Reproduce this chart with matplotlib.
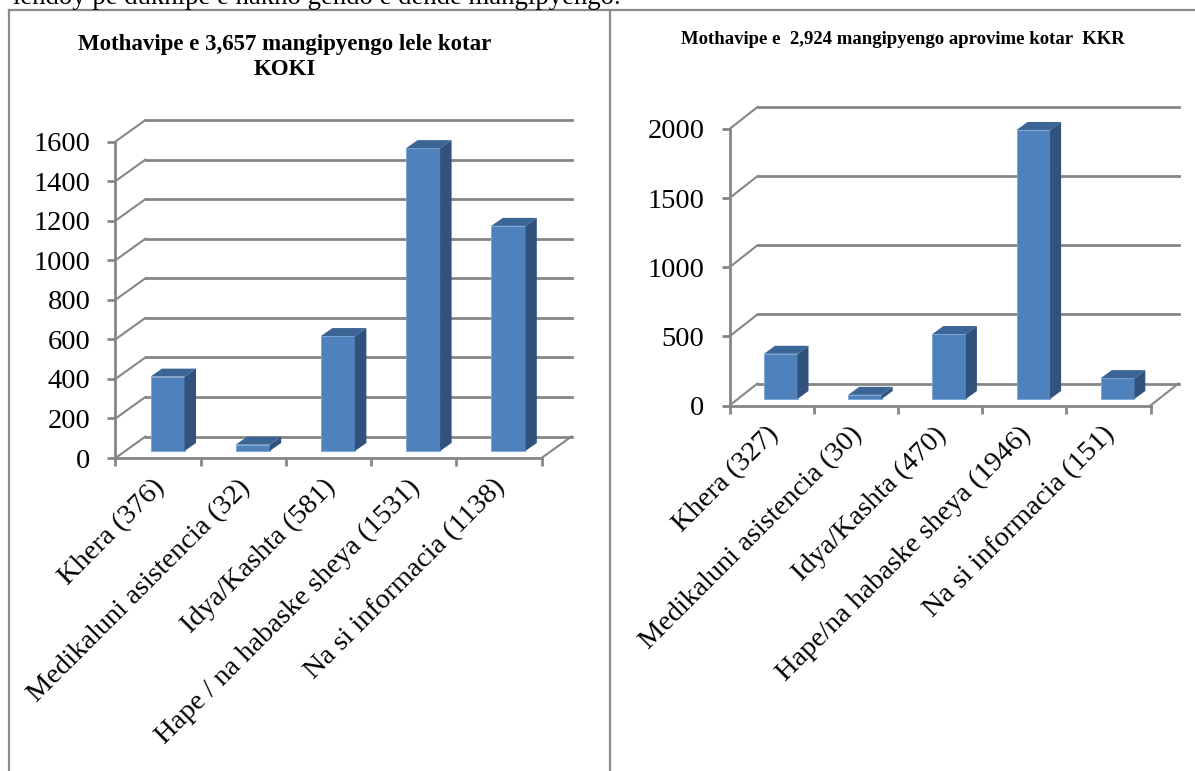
import matplotlib
matplotlib.use('Agg')
import matplotlib.pyplot as plt
from matplotlib.patches import Polygon

W, H = 1195, 771

left_title = 'Mothavipe e 3,657 mangipyengo lele kotar\nKOKI'
left_labels = ['Khera (376)', 'Medikaluni asistencia (32)', 'Idya/Kashta (581)',
               'Hape / na habaske sheya (1531)', 'Na si informacia (1138)']
left_values = [376, 32, 581, 1531, 1138]
left_ticks = [0, 200, 400, 600, 800, 1000, 1200, 1400, 1600]

right_title = 'Mothavipe e  2,924 mangipyengo aprovime kotar  KKR'
right_labels = ['Khera (327)', 'Medikaluni asistencia (30)', 'Idya/Kashta (470)',
                'Hape/na habaske sheya (1946)', 'Na si informacia (151)']
right_values = [327, 30, 470, 1946, 151]
right_ticks = [0, 500, 1000, 1500, 2000]

heading = 'lendoy pe dukhipe e nakho gendo e dende mangipyengo.'

plt.rcParams['font.family'] = ['Liberation Serif', 'DejaVu Serif']
GRID = '#868686'
FRONT = '#4f81bd'
SIDE = '#31527c'
TOP = '#3b6595'


def chart(box, values, labels, ticks, depth, bar_off, bar_depth, bar_w):
    # box is x0, x1, y_bottom, y_top in pixels of the image
    x0, x1, yb, yt = box
    ax = fig.add_axes([x0 / W, 1 - yb / H, (x1 - x0) / W, (yb - yt) / H])
    ymax = ticks[-1]
    ax.set_xlim(0, len(values))
    ax.set_ylim(0, ymax)
    ax.patch.set_visible(False)
    for s in ['top', 'right']:
        ax.spines[s].set_visible(False)
    for s in ['left', 'bottom']:
        ax.spines[s].set_color(GRID)
        ax.spines[s].set_linewidth(2)

    # pixels -> data units
    sx = len(values) / (x1 - x0)
    sy = ymax / (yb - yt)
    ddx, ddy = depth[0] * sx, depth[1] * sy
    n = len(values)

    for t in ticks:
        ax.plot([0, ddx], [t, t + ddy], color=GRID, lw=1.5, clip_on=False, zorder=1)
        ax.plot([ddx, n + ddx], [t + ddy, t + ddy], color=GRID, lw=2, clip_on=False, zorder=1)
    ax.plot([n, n + ddx], [0, ddy], color=GRID, lw=1.5, clip_on=False, zorder=1)

    ox, oy = bar_off[0] * sx, bar_off[1] * sy
    bx, by = bar_depth[0] * sx, bar_depth[1] * sy
    w = bar_w * sx
    for i, v in enumerate(values):
        left = i + ox
        ax.bar(left, v, width=w, bottom=oy, align='edge', color=FRONT,
               edgecolor='#7aa3d6', linewidth=0.6, clip_on=False, zorder=3)
        ax.add_patch(Polygon([(left + w, oy), (left + w + bx, oy + by),
                              (left + w + bx, oy + by + v), (left + w, oy + v)],
                             closed=True, fc=SIDE, ec='none', clip_on=False, zorder=3))
        ax.add_patch(Polygon([(left, oy + v), (left + bx, oy + v + by),
                              (left + w + bx, oy + v + by), (left + w, oy + v)],
                             closed=True, fc=TOP, ec='none', clip_on=False, zorder=3))

    ax.set_yticks(ticks)
    ax.tick_params(axis='y', labelsize=20.5, length=6, width=2, color=GRID, pad=12)
    ax.set_xticks(range(n + 1))
    ax.set_xticklabels([])
    ax.tick_params(axis='x', length=6, width=2, color=GRID)
    ax.set_xticks([i + 0.5 - 6 * sx for i in range(n)], minor=True)
    ax.set_xticklabels(labels, minor=True, rotation=45, ha='right', va='top',
                       rotation_mode='anchor', fontsize=20.5)
    ax.tick_params(axis='x', which='minor', length=0, pad=12)
    return ax


fig = plt.figure(figsize=(W / 100, H / 100), dpi=100)

chart((115.5, 541.5, 458, 141.5), left_values, left_labels, left_ticks,
      (30, 21.5), (35, 7), (11.5, 8), (34))
chart((729.5, 1150.5, 405.5, 129), right_values, right_labels, right_ticks,
      (28, 22), (34.5, 6.5), (11, 8), (33.5))

fig.text(284.5 / W, 1 - 57 / H, left_title, ha='center', va='center', fontsize=16.5,
         fontweight='bold', linespacing=1.25)
fig.text(903 / W, 1 - 40 / H, right_title, ha='center', va='center', fontsize=13.5,
         fontweight='bold')

# text line of the page above the charts, cut by the image edge
fig.text(13 / W, 1 - 4 / H, heading, ha='left', va='baseline', fontsize=19.3)

# frame around the two panels
for xs, ys in [([8.5, 8.5], [771, 9.5]), ([8.5, 1195], [9.5, 9.5]), ([610, 610], [9.5, 771])]:
    fig.add_artist(plt.Line2D([x / W for x in xs], [1 - y / H for y in ys],
                              color='#8a8a8a', lw=1.6))

fig.savefig('out.png', dpi=100)
